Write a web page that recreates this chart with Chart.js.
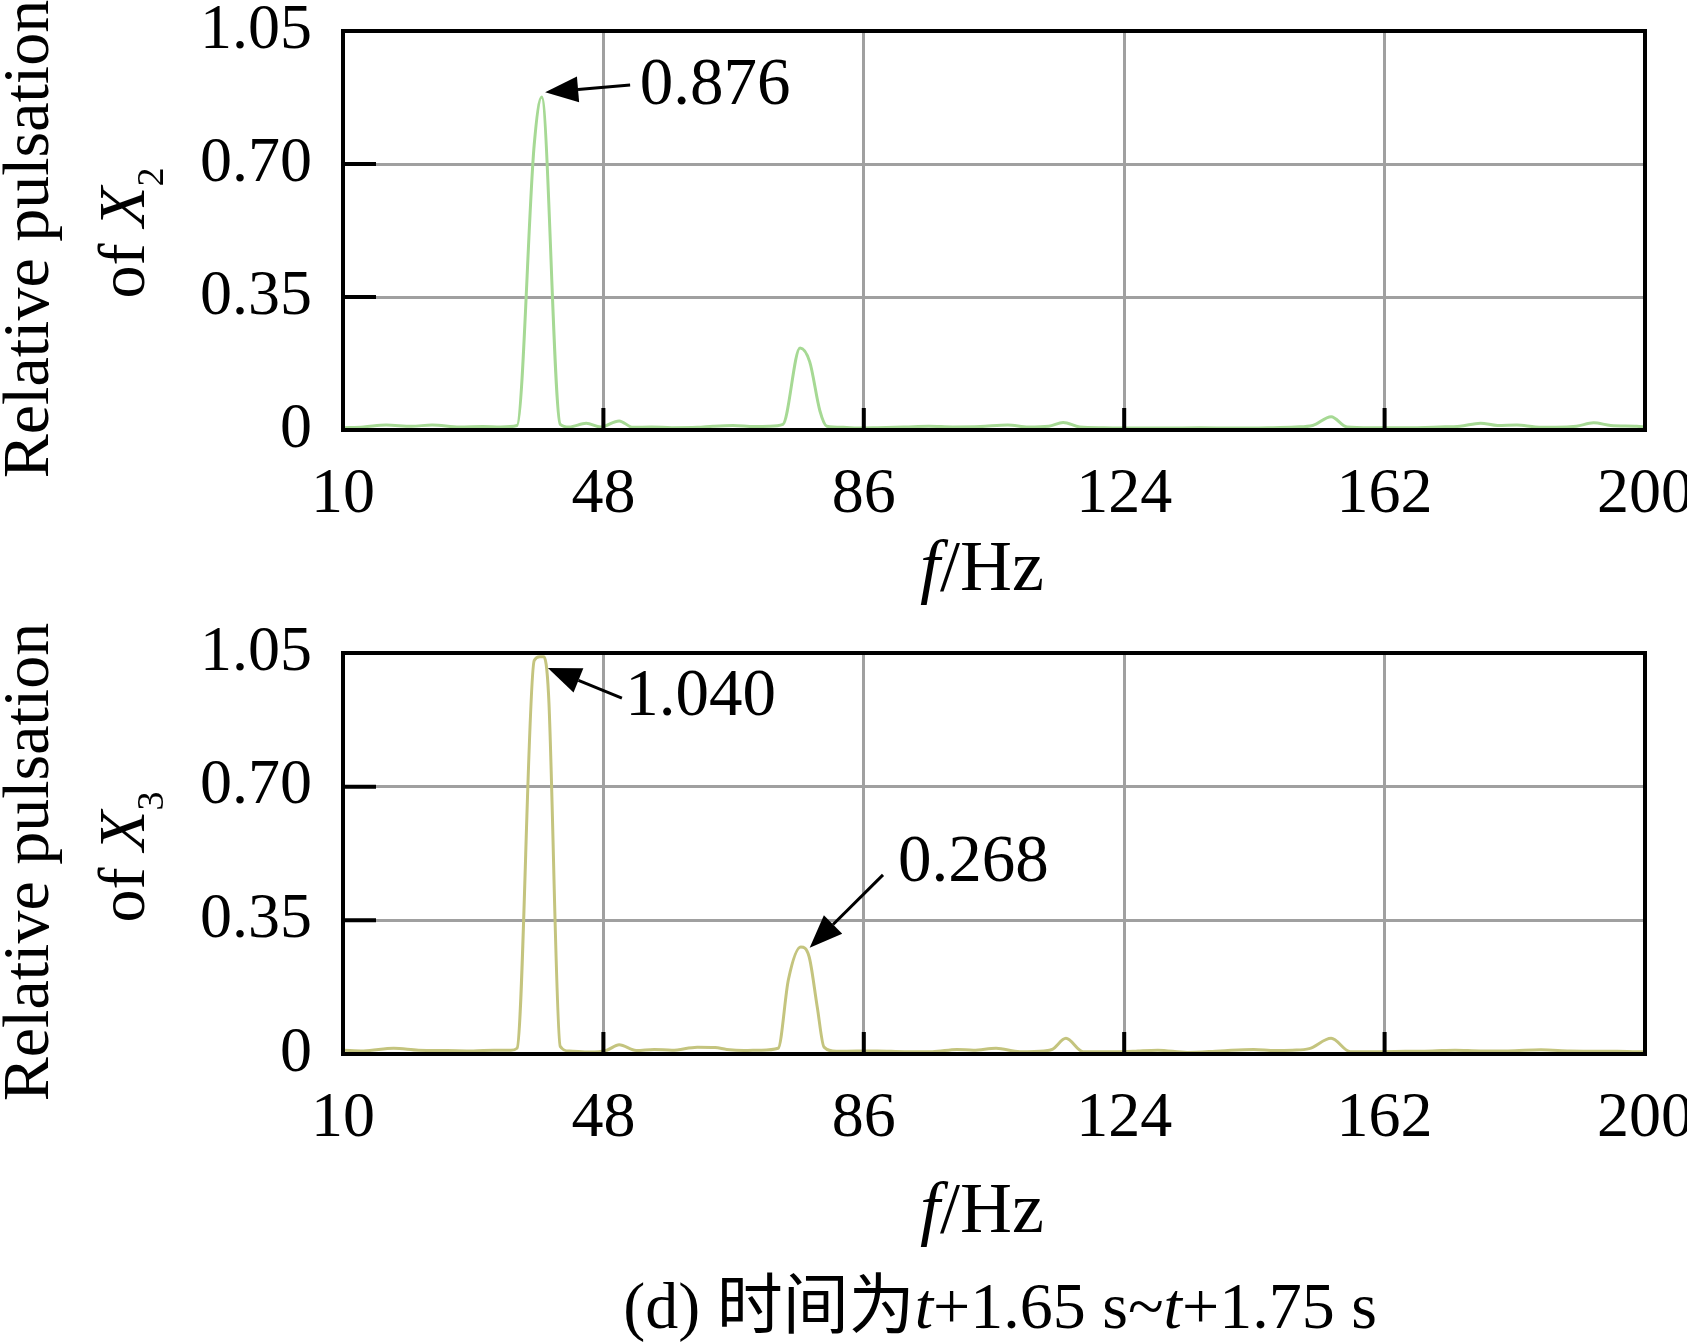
<!DOCTYPE html>
<html>
<head>
<meta charset="utf-8">
<script src="https://cdn.jsdelivr.net/npm/chart.js@4.4.1/dist/chart.umd.min.js"></script>
<style>
  html, body { margin: 0; padding: 0; background: #ffffff; }
  #wrap { position: relative; width: 1687px; height: 1344px; background: #fff; overflow: hidden; }
  .box { position: absolute; left: 0; width: 1687px; }
  #box1 { top: 0; height: 622px; }
  #box2 { top: 622px; height: 722px; }
</style>
</head>
<body>
<div id="wrap">
  <div class="box" id="box1"><canvas id="c1" width="1687" height="622"></canvas></div>
  <div class="box" id="box2"><canvas id="c2" width="1687" height="722"></canvas></div>
</div>
<script>
// ---------------- data ----------------
const xTicks = [10, 48, 86, 124, 162, 200];
const yTicks = [0, 0.35, 0.70, 1.05];
const yTickLabels = ['0', '0.35', '0.70', '1.05'];

const freqX2 = [10, 13, 16.3, 20, 23, 27, 30.4, 33, 35.4, 37.9, 39.0, 41.7, 43, 45.5, 47.6, 50.3, 52.3,
  55, 58, 61.7, 64, 66.9, 70, 72.2, 74.2, 76.7, 78.1, 79.6, 80.6, 83, 85.1, 88, 92, 95.5, 99, 103, 107,
  110, 113, 115.1, 117.5, 121, 125, 130, 135, 140, 145, 149, 151.5, 154.2, 156.5, 160, 165, 170, 173,
  176, 178.5, 181.3, 184, 187, 190, 192.5, 195, 198.8, 200];
const pulseX2 = [0.006, 0.008, 0.013, 0.010, 0.013, 0.008, 0.009, 0.008, 0.012, 0.750, 0.876, 0.015, 0.008, 0.018, 0.008, 0.024, 0.007,
  0.008, 0.006, 0.007, 0.010, 0.012, 0.009, 0.010, 0.015, 0.216, 0.180, 0.050, 0.010, 0.007, 0.005, 0.006, 0.008, 0.010, 0.008, 0.009, 0.013,
  0.008, 0.010, 0.020, 0.008, 0.006, 0.005, 0.005, 0.006, 0.005, 0.006, 0.008, 0.012, 0.035, 0.008, 0.006, 0.006, 0.008, 0.010,
  0.018, 0.012, 0.013, 0.008, 0.007, 0.010, 0.019, 0.012, 0.010, 0.008];

const freqX3 = [10, 13, 17.4, 21, 25.2, 29, 32, 34.5, 35.4, 37.9, 38.7, 39.3, 40.0, 41.7, 43, 46, 48.5, 50.3,
  52.8, 55.4, 58, 61.7, 64.3, 66, 68.5, 71, 73.5, 75.0, 76.8, 78.0, 79.2, 80.2, 82, 85, 88, 92, 96, 99.6,
  102, 105.3, 108.8, 112.3, 113.5, 115.5, 118, 121, 124, 126, 128.9, 133.2, 138, 142.9, 146, 148.5, 151,
  154.2, 157, 160, 165, 169, 172.3, 176, 180, 184.8, 189, 193, 196, 198.8, 200];
const pulseX3 = [0.010, 0.008, 0.015, 0.010, 0.009, 0.008, 0.010, 0.010, 0.015, 1.030, 1.040, 1.040, 0.940, 0.020, 0.008, 0.005, 0.010, 0.024,
  0.009, 0.012, 0.010, 0.018, 0.017, 0.012, 0.009, 0.010, 0.015, 0.195, 0.280, 0.256, 0.124, 0.018, 0.007, 0.008, 0.008, 0.006, 0.006, 0.012,
  0.010, 0.015, 0.006, 0.008, 0.012, 0.041, 0.006, 0.006, 0.006, 0.008, 0.010, 0.004, 0.008, 0.012, 0.009, 0.010, 0.014,
  0.041, 0.006, 0.006, 0.007, 0.008, 0.010, 0.008, 0.008, 0.011, 0.008, 0.007, 0.007, 0.006, 0.006];

// ---------------- helpers ----------------
const SERIF = "'Liberation Serif', 'Times New Roman', serif";
const CAPTION_FONT = "'Liberation Serif', 'Noto Sans CJK SC', serif";

function runsWidth(ctx, runs) {
  let w = 0;
  runs.forEach(r => { ctx.font = r.font; w += ctx.measureText(r.text).width; });
  return w;
}
function drawRuns(ctx, runs, x, y) {
  let cx = x;
  runs.forEach(r => {
    ctx.font = r.font;
    ctx.fillText(r.text, cx, y + (r.dy || 0));
    cx += ctx.measureText(r.text).width;
  });
}

const decorPlugin = {
  id: 'decor',
  afterDatasetsDraw(chart, args, o) {
    const ctx = chart.ctx;
    const a = chart.chartArea;
    const xs = chart.scales.x, ys = chart.scales.y;
    ctx.save();
    ctx.strokeStyle = '#000';
    ctx.fillStyle = '#000';
    // inward tick marks
    ctx.lineWidth = 4;
    ctx.beginPath();
    xTicks.slice(1, -1).forEach(v => {
      const px = xs.getPixelForValue(v);
      ctx.moveTo(px, a.bottom); ctx.lineTo(px, a.bottom - 22);
    });
    yTicks.slice(1, -1).forEach(v => {
      const py = ys.getPixelForValue(v);
      ctx.moveTo(a.left, py); ctx.lineTo(a.left + 33, py);
    });
    ctx.stroke();
    // frame
    ctx.lineWidth = 4;
    ctx.strokeRect(a.left, a.top, a.right - a.left, a.bottom - a.top);

    // annotations (arrow + value)
    (o.notes || []).forEach(n => {
      const tx = xs.getPixelForValue(n.tail[0]), ty = ys.getPixelForValue(n.tail[1]);
      const hx = xs.getPixelForValue(n.tip[0]), hy = ys.getPixelForValue(n.tip[1]);
      const ang = Math.atan2(hy - ty, hx - tx);
      const L = 33, W = 13;
      const bx = hx - L * Math.cos(ang), by = hy - L * Math.sin(ang);
      ctx.lineWidth = 3;
      ctx.beginPath(); ctx.moveTo(tx, ty); ctx.lineTo(bx, by); ctx.stroke();
      ctx.beginPath();
      ctx.moveTo(hx, hy);
      ctx.lineTo(bx + W * Math.sin(ang), by - W * Math.cos(ang));
      ctx.lineTo(bx - W * Math.sin(ang), by + W * Math.cos(ang));
      ctx.closePath(); ctx.fill();
      ctx.font = '67px ' + SERIF;
      ctx.textAlign = 'left'; ctx.textBaseline = 'middle';
      ctx.fillText(n.text, xs.getPixelForValue(n.at[0]), ys.getPixelForValue(n.at[1]));
    });

    // y-axis title (rotated, two lines)
    ctx.textBaseline = 'alphabetic';
    ctx.textAlign = 'left';
    const t1 = [{ text: 'Relative pulsation', font: '66px ' + SERIF }];
    const t2 = [
      { text: 'of ', font: '66px ' + SERIF },
      { text: 'X', font: 'italic 66px ' + SERIF },
      { text: o.sub, font: '38px ' + SERIF, dy: 19 }
    ];
    ctx.save();
    ctx.translate(48, o.yTitleY);
    ctx.rotate(-Math.PI / 2);
    drawRuns(ctx, t1, -runsWidth(ctx, t1) / 2, 0);
    ctx.restore();
    ctx.save();
    ctx.translate(144, o.yTitleY2);
    ctx.rotate(-Math.PI / 2);
    drawRuns(ctx, t2, -runsWidth(ctx, t2) / 2, 0);
    ctx.restore();

    // x-axis title
    const xt = [
      { text: 'f', font: 'italic 72px ' + SERIF },
      { text: '/Hz', font: '72px ' + SERIF }
    ];
    drawRuns(ctx, xt, o.xTitleX - runsWidth(ctx, xt) / 2, o.xTitleBase);

    // caption
    if (o.caption) {
      const cap = [
        { text: '(d) 时间为', font: '66px ' + CAPTION_FONT },
        { text: 't', font: 'italic 66px ' + SERIF },
        { text: '+1.65 s~', font: '66px ' + SERIF },
        { text: 't', font: 'italic 66px ' + SERIF },
        { text: '+1.75 s', font: '66px ' + SERIF }
      ];
      drawRuns(ctx, cap, 1000 - runsWidth(ctx, cap) / 2, o.captionBase);
    }
    ctx.restore();
  }
};

function makeChart(canvasId, freqs, vals, color, bottomLocal, canvasH, decor) {
  const pts = freqs.map((f, i) => ({ x: f, y: vals[i] }));
  return new Chart(document.getElementById(canvasId), {
    type: 'line',
    data: { datasets: [{
      data: pts,
      borderColor: color,
      borderWidth: 3,
      pointRadius: 0,
      fill: false,
      cubicInterpolationMode: 'monotone'
    }] },
    options: {
      responsive: false,
      animation: false,
      devicePixelRatio: 1,
      layout: { padding: { left: 0, right: 42, top: 31, bottom: 0 } },
      plugins: { legend: { display: false }, tooltip: { enabled: false }, decor: decor },
      scales: {
        x: {
          type: 'linear', min: 10, max: 200,
          afterBuildTicks: s => { s.ticks = xTicks.map(v => ({ value: v })); },
          afterFit: s => { s.height = canvasH - bottomLocal; s.paddingLeft = 0; s.paddingRight = 0; },
          ticks: {
            font: { family: SERIF, size: 64 }, color: '#000', padding: 27,
            maxRotation: 0, autoSkip: false,
            callback: v => String(v)
          },
          grid: {
            drawTicks: false, lineWidth: 3,
            color: c => (c.tick && (c.tick.value === 10 || c.tick.value === 200)) ? 'rgba(0,0,0,0)' : '#a0a0a0'
          },
          border: { display: false }
        },
        y: {
          min: 0, max: 1.05,
          afterBuildTicks: s => { s.ticks = yTicks.map(v => ({ value: v })); },
          afterFit: s => { s.width = 343; s.paddingTop = 0; s.paddingBottom = 0; },
          ticks: {
            font: { family: SERIF, size: 64 }, color: '#000', padding: 31,
            autoSkip: false,
            callback: (v, i) => yTickLabels[i]
          },
          grid: {
            drawTicks: false, lineWidth: 3,
            color: c => (c.tick && (c.tick.value === 0 || c.tick.value === 1.05)) ? 'rgba(0,0,0,0)' : '#a0a0a0'
          },
          border: { display: false }
        }
      }
    },
    plugins: [decorPlugin]
  });
}

makeChart('c1', freqX2, pulseX2, '#a6d994', 430, 622, {
  sub: '2', yTitleY: 239, yTitleY2: 233, xTitleX: 982, xTitleBase: 590,
  notes: [{ text: '0.876', at: [53.3, 0.905], tail: [51.9, 0.908], tip: [39.5, 0.889] }]
});
makeChart('c2', freqX3, pulseX3, '#c4c47e', 432, 722, {
  sub: '3', yTitleY: 240, yTitleY2: 235, xTitleX: 982, xTitleBase: 610,
  caption: true, captionBase: 706,
  notes: [
    { text: '1.040', at: [51.2, 0.935], tail: [50.7, 0.932], tip: [39.9, 1.011] },
    { text: '0.268', at: [91.0, 0.500], tail: [88.8, 0.469], tip: [78.1, 0.278] }
  ]
});
</script>
</body>
</html>
